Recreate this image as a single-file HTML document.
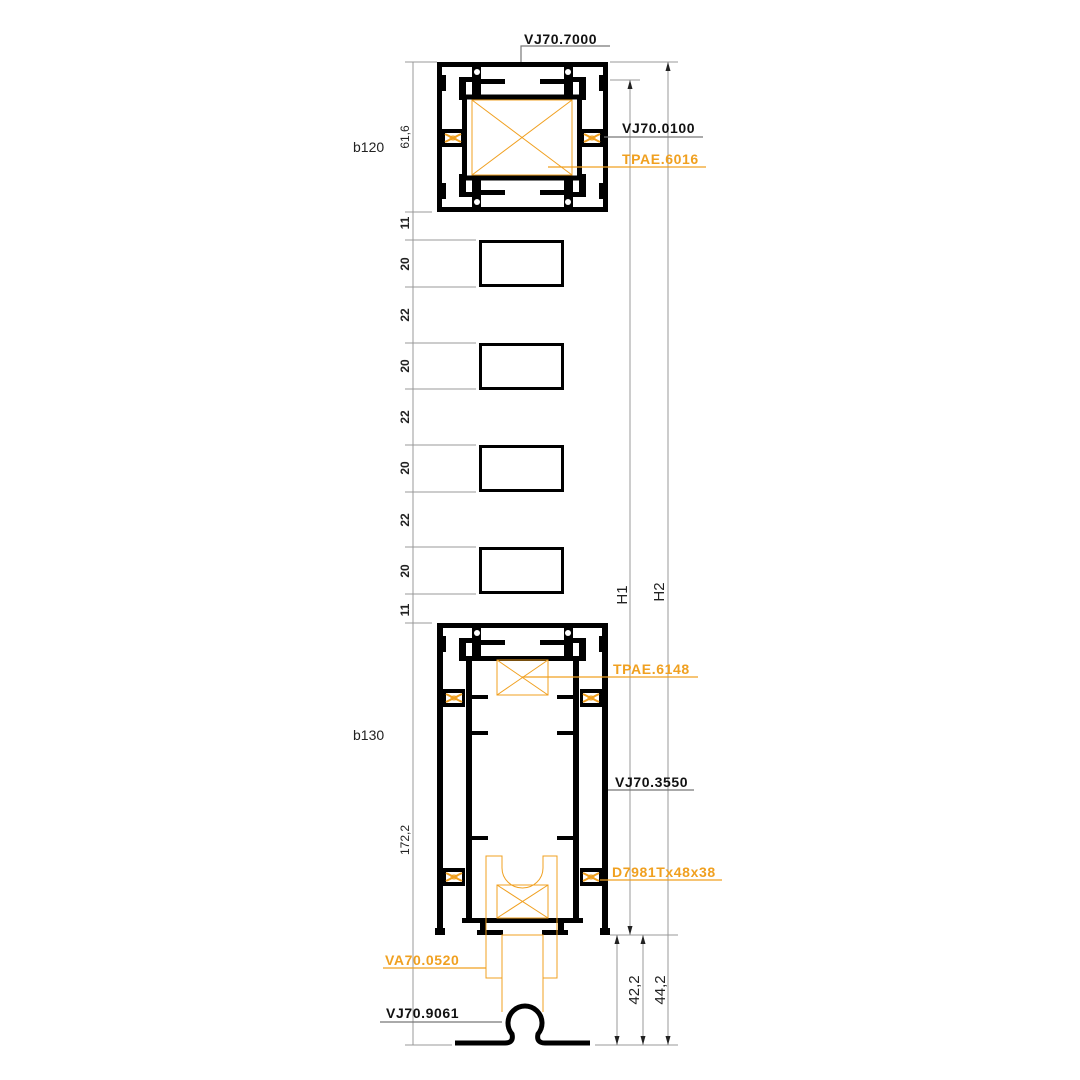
<!DOCTYPE html>
<html><head><meta charset="utf-8"><style>
html,body{margin:0;padding:0;background:#fff;}
svg{display:block;}
.t{font-family:"Liberation Sans",sans-serif;font-weight:bold;font-size:14px;letter-spacing:0.6px;}
.d{font-family:"Liberation Sans",sans-serif;font-size:12px;fill:#222;}
</style></head><body>
<svg width="1080" height="1080" viewBox="0 0 1080 1080" xmlns="http://www.w3.org/2000/svg">
<defs>
<g id="hook">
  <rect x="472" y="66" width="9" height="29" fill="#000"/>
  <circle cx="477" cy="72" r="3" fill="#fff"/>
  <rect x="481" y="79" width="24" height="5" fill="#000"/>
  <rect x="459" y="77" width="7" height="23" fill="#000"/>
  <rect x="459" y="77" width="17" height="5" fill="#000"/>
  <rect x="442" y="75" width="4" height="16" fill="#000"/>
</g>
<g id="gasket">
  <rect x="0" y="-1" width="22" height="4" fill="#000"/>
  <rect x="0" y="13" width="22" height="4" fill="#000"/>
  <rect x="0" y="3" width="3" height="10" fill="#000"/>
  <rect x="19" y="3" width="3" height="10" fill="#000"/>
  <path d="M3 4 L19 12 M3 12 L19 4" stroke="#f0a020" stroke-width="2"/>
  <ellipse cx="11" cy="8" rx="3" ry="2" fill="none" stroke="#f0a020" stroke-width="1"/>
</g>
</defs>

<g stroke="#999" stroke-width="1" fill="none">
  <line x1="413" y1="62" x2="413" y2="1045"/>
  <line x1="405" y1="62" x2="437" y2="62"/>
  <line x1="405" y1="212" x2="432" y2="212"/>
  <line x1="405" y1="240" x2="476" y2="240"/>
  <line x1="405" y1="287" x2="476" y2="287"/>
  <line x1="405" y1="343" x2="476" y2="343"/>
  <line x1="405" y1="389" x2="476" y2="389"/>
  <line x1="405" y1="445" x2="476" y2="445"/>
  <line x1="405" y1="492" x2="476" y2="492"/>
  <line x1="405" y1="547" x2="476" y2="547"/>
  <line x1="405" y1="594" x2="476" y2="594"/>
  <line x1="405" y1="623" x2="432" y2="623"/>
  <line x1="405" y1="1045" x2="452" y2="1045"/>
  <line x1="630" y1="80" x2="630" y2="935"/>
  <line x1="668" y1="62" x2="668" y2="1045"/>
  <line x1="610" y1="80" x2="640" y2="80"/>
  <line x1="610" y1="62" x2="678" y2="62"/>
  <line x1="617" y1="935" x2="617" y2="1045"/>
  <line x1="643" y1="935" x2="643" y2="1045"/>
  <line x1="610" y1="935" x2="678" y2="935"/>
  <line x1="595" y1="1045" x2="678" y2="1045"/>
</g>
<g fill="#222">
  <path d="M630 80 l-2.5 9 h5z"/><path d="M630 935 l-2.5 -9 h5z"/>
  <path d="M668 62 l-2.5 9 h5z"/><path d="M668 1045 l-2.5 -9 h5z"/>
  <path d="M617 935 l-2.5 9 h5z"/><path d="M617 1045 l-2.5 -9 h5z"/>
  <path d="M643 935 l-2.5 9 h5z"/><path d="M643 1045 l-2.5 -9 h5z"/>
</g>

<text class="d" x="353" y="152" style="font-size:14px">b120</text>
<text class="d" x="353" y="740" style="font-size:14px">b130</text>
<g class="d">
  <text transform="translate(409,137) rotate(-90)" text-anchor="middle">61,6</text>
  <text transform="translate(409,223) rotate(-90)" text-anchor="middle" style="font-weight:bold">11</text>
  <text transform="translate(409,264) rotate(-90)" text-anchor="middle" style="font-weight:bold">20</text>
  <text transform="translate(409,315) rotate(-90)" text-anchor="middle" style="font-weight:bold">22</text>
  <text transform="translate(409,366) rotate(-90)" text-anchor="middle" style="font-weight:bold">20</text>
  <text transform="translate(409,417) rotate(-90)" text-anchor="middle" style="font-weight:bold">22</text>
  <text transform="translate(409,468) rotate(-90)" text-anchor="middle" style="font-weight:bold">20</text>
  <text transform="translate(409,520) rotate(-90)" text-anchor="middle" style="font-weight:bold">22</text>
  <text transform="translate(409,571) rotate(-90)" text-anchor="middle" style="font-weight:bold">20</text>
  <text transform="translate(409,610) rotate(-90)" text-anchor="middle" style="font-weight:bold">11</text>
  <text transform="translate(409,840) rotate(-90)" text-anchor="middle">172,2</text>
  <text transform="translate(627,595) rotate(-90)" text-anchor="middle" style="font-size:15px">H1</text>
  <text transform="translate(664,592) rotate(-90)" text-anchor="middle" style="font-size:15px">H2</text>
  <text transform="translate(639,990) rotate(-90)" text-anchor="middle" style="font-size:15px">42,2</text>
  <text transform="translate(665,990) rotate(-90)" text-anchor="middle" style="font-size:15px">44,2</text>
</g>

<rect x="439.5" y="64.5" width="166" height="145" fill="none" stroke="#000" stroke-width="5"/>
<rect x="464.5" y="97" width="115" height="81" fill="none" stroke="#000" stroke-width="5"/>
<g stroke="#f0a020" stroke-width="1" fill="none">
  <rect x="472" y="100" width="100" height="75"/>
  <line x1="472" y1="100" x2="572" y2="175"/><line x1="572" y1="100" x2="472" y2="175"/>
</g>
<use href="#hook"/>
<use href="#hook" transform="translate(1045,0) scale(-1,1)"/>
<use href="#hook" transform="translate(0,274) scale(1,-1)"/>
<use href="#hook" transform="translate(1045,274) scale(-1,-1)"/>
<use href="#gasket" x="442" y="130"/>
<use href="#gasket" x="581" y="130"/>

<g fill="none" stroke="#000" stroke-width="3">
  <rect x="480.5" y="241.5" width="82" height="44"/>
  <rect x="480.5" y="344.5" width="82" height="44"/>
  <rect x="480.5" y="446.5" width="82" height="44"/>
  <rect x="480.5" y="548.5" width="82" height="44"/>
</g>

<g fill="#000">
  <rect x="437" y="623" width="171" height="5"/>
  <rect x="437" y="623" width="6" height="312"/>
  <rect x="602" y="623" width="6" height="312"/>
  <rect x="435" y="928" width="10" height="7"/>
  <rect x="600" y="928" width="10" height="7"/>
  <rect x="465" y="656" width="115" height="5"/>
  <rect x="466" y="656" width="6" height="266"/>
  <rect x="573" y="656" width="6" height="266"/>
  <rect x="462" y="918" width="121" height="5"/>
  <rect x="480" y="922" width="6" height="10"/>
  <rect x="558" y="922" width="6" height="10"/>
  <rect x="477" y="930" width="26" height="5"/>
  <rect x="542" y="930" width="26" height="5"/>
  <rect x="472" y="695" width="16" height="4"/>
  <rect x="557" y="695" width="16" height="4"/>
  <rect x="472" y="731" width="16" height="4"/>
  <rect x="557" y="731" width="16" height="4"/>
  <rect x="472" y="836" width="16" height="4"/>
  <rect x="557" y="836" width="16" height="4"/>
</g>
<use href="#hook" transform="translate(0,561)"/>
<use href="#hook" transform="translate(1045,561) scale(-1,1)"/>
<use href="#gasket" x="443" y="690"/>
<use href="#gasket" x="580" y="690"/>
<use href="#gasket" x="443" y="869"/>
<use href="#gasket" x="580" y="869"/>
<g stroke="#f0a020" stroke-width="1" fill="none">
  <rect x="497" y="660" width="51" height="35"/>
  <line x1="497" y1="660" x2="548" y2="695"/><line x1="548" y1="660" x2="497" y2="695"/>
  <path d="M486 856 H502 V868 A20.5 20 0 0 0 543 868 V856 H557 V978 H543 V935 H502 V978 H486 Z"/>
  <rect x="497" y="885" width="51" height="33"/>
  <line x1="497" y1="885" x2="548" y2="918"/><line x1="548" y1="885" x2="497" y2="918"/>
  <line x1="502" y1="978" x2="502" y2="1012"/>
  <line x1="543" y1="978" x2="543" y2="1012"/>
</g>

<path d="M455 1043 H505 Q514 1043 512 1034 A17 17 0 1 1 538 1034 Q536 1043 545 1043 H590" fill="none" stroke="#000" stroke-width="5"/>

<g stroke-width="1.2" fill="none">
  <polyline points="521,62 521,46 610,46" stroke="#777"/>
  <line x1="604" y1="137" x2="703" y2="137" stroke="#777"/>
  <line x1="548" y1="167" x2="706" y2="167" stroke="#f0a020"/>
  <line x1="522" y1="677" x2="698" y2="677" stroke="#f0a020"/>
  <line x1="608" y1="790" x2="694" y2="790" stroke="#777"/>
  <line x1="600" y1="880" x2="722" y2="880" stroke="#f0a020"/>
  <polyline points="383,968 486,968" stroke="#f0a020"/>
  <line x1="380" y1="1022" x2="502" y2="1022" stroke="#777"/>
</g>
<g class="t">
  <text x="524" y="44" fill="#111">VJ70.7000</text>
  <text x="622" y="133" fill="#111">VJ70.0100</text>
  <text x="622" y="164" fill="#f0a020">TPAE.6016</text>
  <text x="613" y="674" fill="#f0a020">TPAE.6148</text>
  <text x="615" y="787" fill="#111">VJ70.3550</text>
  <text x="612" y="877" fill="#f0a020">D7981Tx48x38</text>
  <text x="385" y="965" fill="#f0a020">VA70.0520</text>
  <text x="386" y="1018" fill="#111">VJ70.9061</text>
</g>
</svg>
</body></html>
